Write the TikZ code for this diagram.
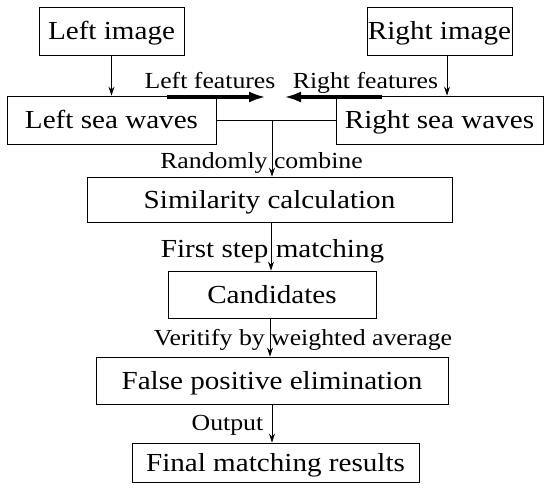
\documentclass[tikz,border=0pt]{standalone}
\usepackage{fontspec}
\setmainfont[FakeStretch=1.12]{Liberation Serif}
\usetikzlibrary{arrows.meta}
\begin{document}
\begin{tikzpicture}[x=1pt,y=-1pt,
  box/.style={draw,line width=0.8pt,inner sep=0pt,text height=17pt,text depth=0pt,
    font=\fontsize{26}{30}\selectfont},
  lbl/.style={inner sep=0pt,anchor=base,font=\fontsize{23}{27}\selectfont},
  biglbl/.style={inner sep=0pt,anchor=base,font=\fontsize{26}{30}\selectfont},
  conn/.style={line width=0.8pt},
  arr/.style={line width=0.8pt,-{Stealth[length=9pt,width=6pt]}},
  thick arr/.style={line width=3.5pt,-{Latex[length=17pt,width=11pt]}}]
\useasboundingbox (0,0) rectangle (550,490);
\node[box,minimum width=145pt,minimum height=48pt] (limg) at (111.5,31) {Left image};
\node[box,minimum width=145pt,minimum height=48pt] (rimg) at (439.5,31) {Right image};
\node[box,minimum width=209pt,minimum height=48pt] (lsea) at (111.5,120) {Left sea waves};
\node[box,minimum width=207pt,minimum height=48pt] (rsea) at (439.5,120) {Right sea waves};
\node[box,minimum width=365pt,minimum height=45pt] (sim) at (269.5,199.5) {Similarity calculation};
\node[box,minimum width=208pt,minimum height=47pt] (cand) at (272,294.5) {Candidates};
\node[box,minimum width=352pt,minimum height=47pt] (fp) at (272,380.5) {False positive elimination};
\node[box,minimum width=287pt,minimum height=39pt] (fin) at (275.5,462.5) {Final matching results};
% labels
\node[lbl] (lf) at (210,88) {Left features};
\node[lbl] (rf) at (365.5,88) {Right features};
\node[lbl] (rc) at (261.5,168) {Randomly combine};
\node[biglbl] (fs) at (272.5,257) {First step matching};
\node[lbl] (vw) at (303,345) {Veritify by weighted average};
\node[lbl] (op) at (227.5,430) {Output};
% coordinates
\coordinate (lfs) at (167,97);
\coordinate (lft) at (266,97);
\coordinate (rfs) at (382,97);
\coordinate (rft) at (284,97);
\coordinate (j) at (272,120);
% connectors
\draw[arr] (limg.south) -- (lsea.north);
\draw[arr] ([xshift=7.5pt]rimg.south) -- ([xshift=7.5pt]rimg.south |- rsea.north);
\draw[thick arr] (lfs) -- (lft);
\draw[thick arr] (rfs) -- (rft);
\draw[conn] (lsea.east |- j) -- (rsea.west |- j);
\draw[arr] (j) -- (j |- sim.north);
\draw[arr] ([xshift=1.5pt]sim.south) -- ([xshift=1.5pt]sim.south |- cand.north);
\draw[arr] ([xshift=-2pt]cand.south) -- ([xshift=-2pt]cand.south |- fp.north);
\draw[arr] (fp.south) -- (fp.south |- fin.north);
\end{tikzpicture}
\end{document}
